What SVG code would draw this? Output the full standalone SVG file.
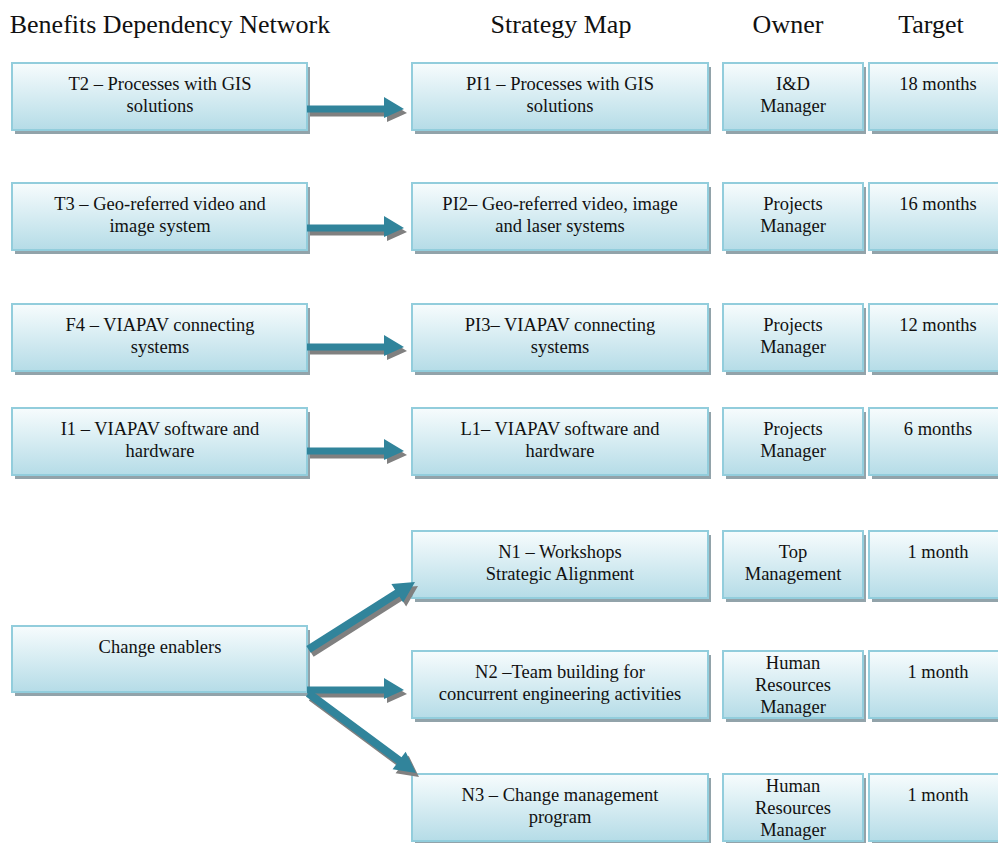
<svg xmlns="http://www.w3.org/2000/svg" width="998" height="843" viewBox="0 0 998 843">
<defs>
<linearGradient id="bg" x1="0" y1="0" x2="0" y2="1">
<stop offset="0" stop-color="#f7fcfd"/>
<stop offset="1" stop-color="#b5dce7"/>
</linearGradient>
<style>
text{font-family:"Liberation Serif","Times New Roman",serif;fill:#111;text-anchor:middle}
.h{font-size:26px}
.t{font-size:18.5px}
.box{fill:url(#bg);stroke:#92cddc;stroke-width:2}
.sh{fill:#92a3aa}
.ah{fill:#31849b}
.as{fill:#808080}
</style>
</defs>
<rect width="998" height="843" fill="#fff"/>
<g id="headers">
<text class="h" x="170" y="33">Benefits Dependency Network</text>
<text class="h" x="561" y="33">Strategy Map</text>
<text class="h" x="788" y="33">Owner</text>
<text class="h" x="931" y="33">Target</text>
</g>
<g id="n-t2"><rect class="sh" x="15" y="67" width="295" height="67"/><rect class="box" x="12" y="63" width="295" height="67"/><text class="t" x="160" y="90">T2 – Processes with GIS</text><text class="t" x="160" y="112">solutions</text></g>
<g id="n-t3"><rect class="sh" x="15" y="187" width="295" height="67"/><rect class="box" x="12" y="183" width="295" height="67"/><text class="t" x="160" y="210">T3 – Geo-referred video and</text><text class="t" x="160" y="232">image system</text></g>
<g id="n-f4"><rect class="sh" x="15" y="308" width="295" height="67"/><rect class="box" x="12" y="304" width="295" height="67"/><text class="t" x="160" y="331">F4 – VIAPAV connecting</text><text class="t" x="160" y="353">systems</text></g>
<g id="n-i1"><rect class="sh" x="15" y="412" width="295" height="67"/><rect class="box" x="12" y="408" width="295" height="67"/><text class="t" x="160" y="435">I1 – VIAPAV software and</text><text class="t" x="160" y="457">hardware</text></g>
<g id="n-ce"><rect class="sh" x="15" y="630" width="295" height="66"/><rect class="box" x="12" y="626" width="295" height="66"/><text class="t" x="160" y="653">Change enablers</text></g>
<g id="n-pi1"><rect class="sh" x="415" y="67" width="296" height="67"/><rect class="box" x="412" y="63" width="296" height="67"/><text class="t" x="560" y="90">PI1 – Processes with GIS</text><text class="t" x="560" y="112">solutions</text></g>
<g id="n-pi2"><rect class="sh" x="415" y="187" width="296" height="67"/><rect class="box" x="412" y="183" width="296" height="67"/><text class="t" x="560" y="210">PI2– Geo-referred video, image</text><text class="t" x="560" y="232">and laser systems</text></g>
<g id="n-pi3"><rect class="sh" x="415" y="308" width="296" height="67"/><rect class="box" x="412" y="304" width="296" height="67"/><text class="t" x="560" y="331">PI3– VIAPAV connecting</text><text class="t" x="560" y="353">systems</text></g>
<g id="n-l1"><rect class="sh" x="415" y="412" width="296" height="67"/><rect class="box" x="412" y="408" width="296" height="67"/><text class="t" x="560" y="435">L1– VIAPAV software and</text><text class="t" x="560" y="457">hardware</text></g>
<g id="n-n1"><rect class="sh" x="415" y="535" width="296" height="67"/><rect class="box" x="412" y="531" width="296" height="67"/><text class="t" x="560" y="558">N1 – Workshops</text><text class="t" x="560" y="580">Strategic Alignment</text></g>
<g id="n-n2"><rect class="sh" x="415" y="655" width="296" height="67"/><rect class="box" x="412" y="651" width="296" height="67"/><text class="t" x="560" y="678">N2 –Team building for</text><text class="t" x="560" y="700">concurrent engineering activities</text></g>
<g id="n-n3"><rect class="sh" x="415" y="778" width="296" height="67"/><rect class="box" x="412" y="774" width="296" height="67"/><text class="t" x="560" y="801">N3 – Change management</text><text class="t" x="560" y="823">program</text></g>
<g id="o-1"><rect class="sh" x="726" y="67" width="140" height="67"/><rect class="box" x="723" y="63" width="140" height="67"/><text class="t" x="793" y="90">I&amp;D</text><text class="t" x="793" y="112">Manager</text></g>
<g id="o-2"><rect class="sh" x="726" y="187" width="140" height="67"/><rect class="box" x="723" y="183" width="140" height="67"/><text class="t" x="793" y="210">Projects</text><text class="t" x="793" y="232">Manager</text></g>
<g id="o-3"><rect class="sh" x="726" y="308" width="140" height="67"/><rect class="box" x="723" y="304" width="140" height="67"/><text class="t" x="793" y="331">Projects</text><text class="t" x="793" y="353">Manager</text></g>
<g id="o-4"><rect class="sh" x="726" y="412" width="140" height="67"/><rect class="box" x="723" y="408" width="140" height="67"/><text class="t" x="793" y="435">Projects</text><text class="t" x="793" y="457">Manager</text></g>
<g id="o-5"><rect class="sh" x="726" y="535" width="140" height="67"/><rect class="box" x="723" y="531" width="140" height="67"/><text class="t" x="793" y="558">Top</text><text class="t" x="793" y="580">Management</text></g>
<g id="o-6"><rect class="sh" x="726" y="655" width="140" height="67"/><rect class="box" x="723" y="651" width="140" height="67"/><text class="t" x="793" y="669">Human</text><text class="t" x="793" y="691">Resources</text><text class="t" x="793" y="713">Manager</text></g>
<g id="o-7"><rect class="sh" x="726" y="778" width="140" height="67"/><rect class="box" x="723" y="774" width="140" height="67"/><text class="t" x="793" y="792">Human</text><text class="t" x="793" y="814">Resources</text><text class="t" x="793" y="836">Manager</text></g>
<g id="g-1"><rect class="sh" x="872" y="67" width="140" height="67"/><rect class="box" x="869" y="63" width="140" height="67"/><text class="t" x="938" y="90">18 months</text></g>
<g id="g-2"><rect class="sh" x="872" y="187" width="140" height="67"/><rect class="box" x="869" y="183" width="140" height="67"/><text class="t" x="938" y="210">16 months</text></g>
<g id="g-3"><rect class="sh" x="872" y="308" width="140" height="67"/><rect class="box" x="869" y="304" width="140" height="67"/><text class="t" x="938" y="331">12 months</text></g>
<g id="g-4"><rect class="sh" x="872" y="412" width="140" height="67"/><rect class="box" x="869" y="408" width="140" height="67"/><text class="t" x="938" y="435">6 months</text></g>
<g id="g-5"><rect class="sh" x="872" y="535" width="140" height="67"/><rect class="box" x="869" y="531" width="140" height="67"/><text class="t" x="938" y="558">1 month</text></g>
<g id="g-6"><rect class="sh" x="872" y="655" width="140" height="67"/><rect class="box" x="869" y="651" width="140" height="67"/><text class="t" x="938" y="678">1 month</text></g>
<g id="g-7"><rect class="sh" x="872" y="778" width="140" height="67"/><rect class="box" x="869" y="774" width="140" height="67"/><text class="t" x="938" y="801">1 month</text></g>
<g id="connectors">
<g id="c-t2"><path class="as" d="M310,109.5 H387 V101 L407,113 L387,122 V116.5 H310 Z"/><path class="ah" d="M307,105.5 H384 V97 L404,109 L384,118 V112.5 H307 Z"/></g>
<g id="c-t3"><path class="as" d="M310,228.5 H387 V220 L407,232 L387,241 V235.5 H310 Z"/><path class="ah" d="M307,224.5 H384 V216 L404,228 L384,237 V231.5 H307 Z"/></g>
<g id="c-f4"><path class="as" d="M310,347.5 H387 V339 L407,351 L387,360 V354.5 H310 Z"/><path class="ah" d="M307,343.5 H384 V335 L404,347 L384,356 V350.5 H307 Z"/></g>
<g id="c-i1"><path class="as" d="M310,451.5 H387 V443 L407,455 L387,464 V458.5 H310 Z"/><path class="ah" d="M307,447.5 H384 V439 L404,451 L384,460 V454.5 H307 Z"/></g>
<g id="c-n2"><path class="as" d="M310,690.5 H387 V682 L407,694 L387,703 V697.5 H310 Z"/><path class="ah" d="M307,686.5 H384 V678 L404,690 L384,699 V693.5 H307 Z"/></g>
<g id="c-n1">
<path class="as" transform="translate(418,586) rotate(-32.3)" d="M-126,-4 H-21 V-11 L0,0 L-21,11 V4 H-126 Z"/>
<path class="ah" transform="translate(415,582) rotate(-32.3)" d="M-126,-4 H-21 V-11 L0,0 L-21,11 V4 H-126 Z"/>
</g>
<g id="c-n3">
<path class="as" transform="translate(419,777) rotate(36.5)" d="M-134,-4 H-21 V-11 L0,0 L-21,11 V4 H-134 Z"/>
<path class="ah" transform="translate(416,773) rotate(36.5)" d="M-134,-4 H-21 V-11 L0,0 L-21,11 V4 H-134 Z"/>
</g>
</g>
</svg>
